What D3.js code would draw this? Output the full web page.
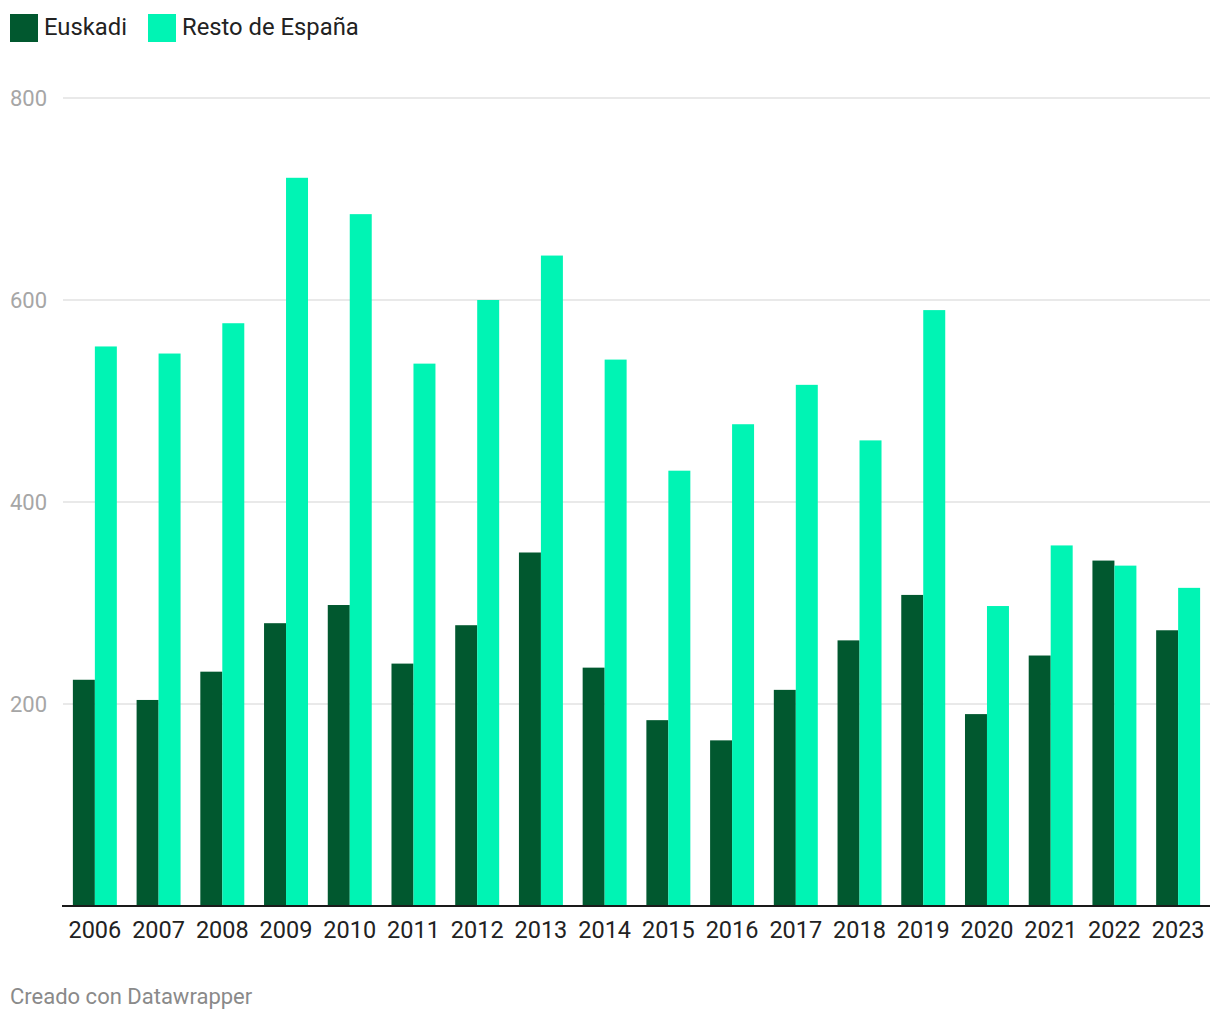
<!DOCTYPE html>
<html>
<head>
<meta charset="utf-8">
<script src="https://cdn.jsdelivr.net/npm/d3@7"></script>
<style>
  body { margin: 0; background: #fff; font-family: Roboto, sans-serif; }
  svg { display: block; }
</style>
</head>
<body>
<svg id="chart" width="1220" height="1020"></svg>
<script>
// years on the x axis
var years = ["2006","2007","2008","2009","2010","2011","2012","2013","2014",
             "2015","2016","2017","2018","2019","2020","2021","2022","2023"];
var euskadi = [224, 204, 232, 280, 298, 240, 278, 350, 236, 184, 164, 214, 263, 308, 190, 248, 342, 273];
var resto   = [554, 547, 577, 721, 685, 537, 600, 644, 541, 431, 477, 516, 461, 590, 297, 357, 337, 315];
var seriesNames = ["Euskadi", "Resto de España"];
var yTicks = [200, 400, 600, 800];

var colors = ["#01582f", "#00f4b4"];
var svg = d3.select("#chart");

var x = d3.scaleBand().domain(years).range([63, 1210])
    .paddingInner(0.31).paddingOuter(0.155);
var sub = d3.scaleBand().domain(seriesNames).range([0, x.bandwidth()]);
var y = d3.scaleLinear().domain([0, 800]).range([906, 98]);

// legend
var leg = svg.append("g");
var lx = [10, 148];
seriesNames.forEach(function(s, i){
    leg.append("rect").attr("x", lx[i]).attr("y", 14).attr("width", 28).attr("height", 28)
	.attr("fill", colors[i]);
    leg.append("text").attr("x", lx[i] + 34).attr("y", 35)
	.attr("font-size", 23.8).attr("fill", "#222").text(s);
});

// gridlines + y labels
var grid = svg.append("g");
yTicks.forEach(function(t){
    grid.append("line").attr("x1", 63).attr("x2", 1210)
	.attr("y1", y(t)).attr("y2", y(t))
	.attr("stroke", "#e2e2e2").attr("stroke-width", 1.5);
    grid.append("text").attr("x", 10).attr("y", y(t) + 8)
	.attr("font-size", 22).attr("fill", "#a6a6a6").text(t);
});

// bars
var rows = years.map(function(yr, i){ return {year: yr, vals: [euskadi[i], resto[i]]}; });
var groups = svg.append("g").selectAll("g").data(rows).enter().append("g")
    .attr("transform", function(d){ return "translate(" + x(d.year) + ",0)"; });
groups.selectAll("rect").data(function(d){ return d.vals; }).enter().append("rect")
    .attr("x", function(d, i){ return sub(seriesNames[i]); })
    .attr("width", sub.bandwidth())
    .attr("y", function(d){ return y(d); })
    .attr("height", function(d){ return y(0) - y(d); })
    .attr("fill", function(d, i){ return colors[i]; });

// x axis
var xAxis = svg.append("g").attr("transform", "translate(0," + y(0) + ")")
    .call(d3.axisBottom(x).tickSize(0).tickPadding(15));
xAxis.select(".domain").attr("stroke", "#1a1a1a").attr("stroke-width", 2)
    .attr("d", "M62,0H1210");
xAxis.selectAll("text").attr("font-size", 23.5).attr("fill", "#222")
    .attr("font-family", "Roboto, sans-serif");

// footer
svg.append("text").attr("x", 10).attr("y", 1004)
    .attr("font-size", 22).attr("fill", "#8a8a8a").text("Creado con Datawrapper");
</script>
</body>
</html>
